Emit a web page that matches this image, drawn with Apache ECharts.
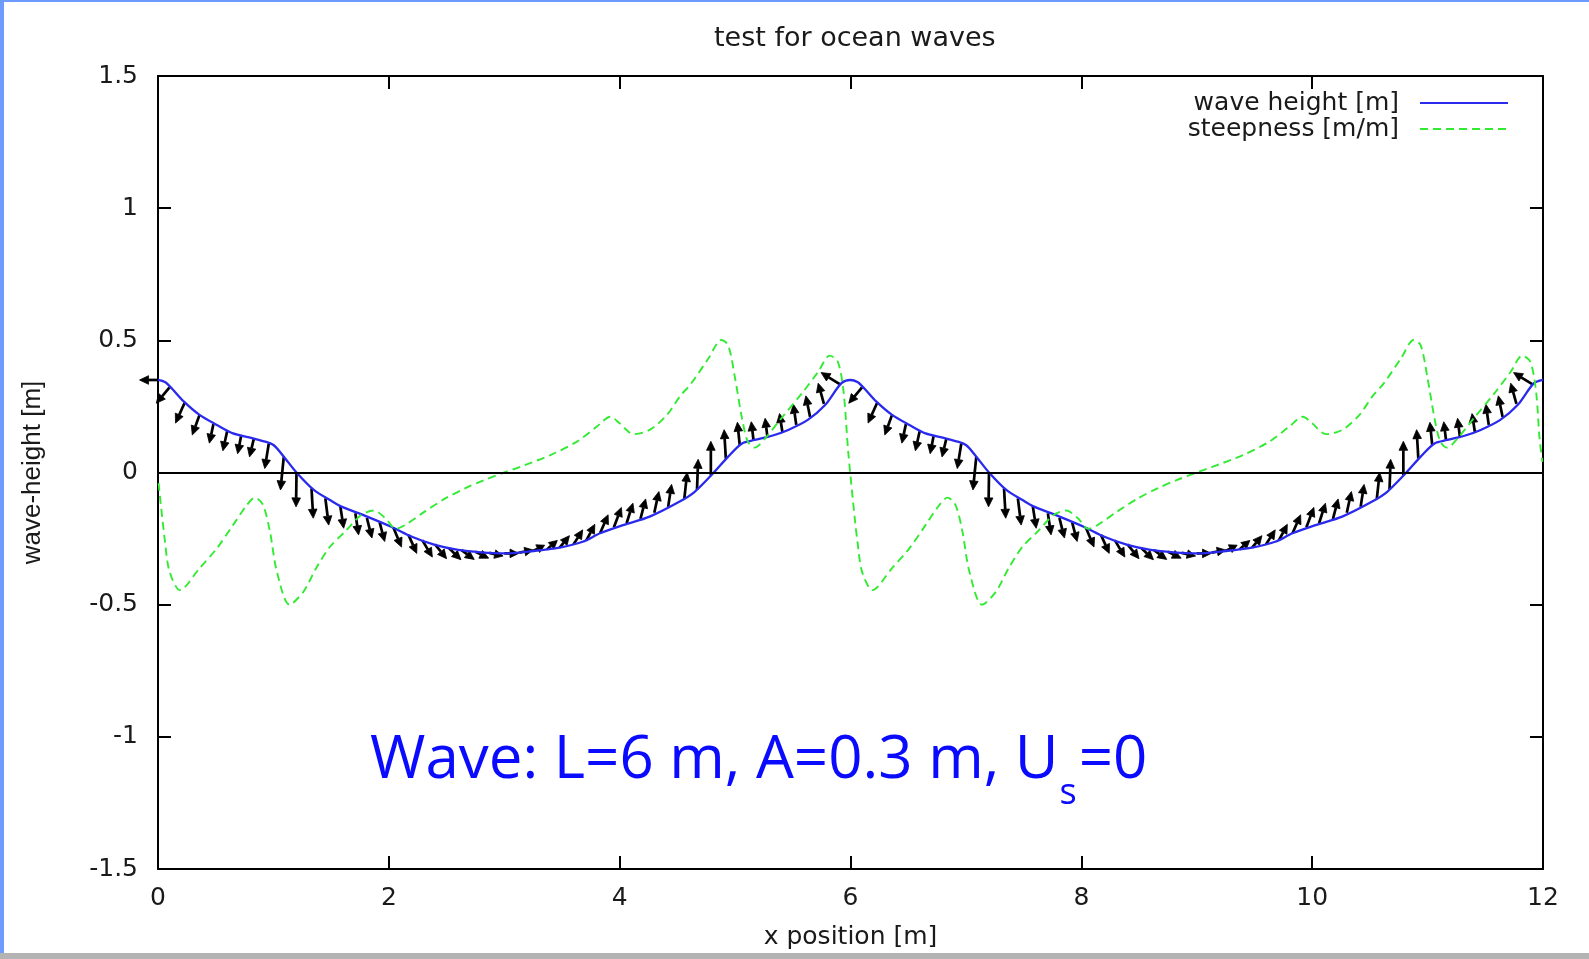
<!DOCTYPE html>
<html lang="en">
<head>
<meta charset="UTF-8">
<title>test for ocean waves</title>
<style>
    html, body { margin: 0; padding: 0; background: #fff; }
    .edge { position: absolute; z-index: 5; }
</style>
</head>
<body>
<div style="position:relative;width:1589px;height:959px;">
    <div id="main" style="width:1589px;height:959px;"></div>
    <div class="edge" style="left:0;top:0;width:1589px;height:2px;background:#6e9bfb"></div>
    <div class="edge" style="left:0;top:0;width:4px;height:959px;background:#6e9bfb"></div>
    <div class="edge" style="left:0;top:953px;width:1589px;height:6px;background:#b3b3b3"></div>
</div>

<script src="https://cdn.jsdelivr.net/npm/echarts@6/dist/echarts.min.js"></script>
<script>
    // wave height along x
    var waveX = [0, 0.06, 0.12, 0.22, 0.36, 0.51, 0.65, 0.80, 0.91, 1.00, 1.09, 1.20, 1.35, 1.49, 1.59, 1.79, 2.02, 2.20, 2.40, 2.60,
        2.80, 3.00, 3.25, 3.48, 3.68, 3.83, 4.03, 4.26, 4.52, 4.65, 4.81, 4.94, 5.06, 5.17, 5.32, 5.46, 5.63, 5.78, 5.92, 6.00,
        6.06, 6.12, 6.22, 6.36, 6.51, 6.65, 6.80, 6.91, 7.00, 7.09, 7.20, 7.35, 7.49, 7.59, 7.79, 8.02, 8.20, 8.40, 8.60, 8.80,
        9.00, 9.25, 9.48, 9.68, 9.83, 10.03, 10.26, 10.52, 10.65, 10.81, 10.94, 11.06, 11.17, 11.32, 11.46, 11.63, 11.78, 11.92, 12.00];
    var waveH = [0.350, 0.342, 0.318, 0.270, 0.218, 0.180, 0.148, 0.132, 0.119, 0.104, 0.060, 0.000, -0.066, -0.104, -0.129, -0.163, -0.205, -0.243, -0.274, -0.293,
        -0.302, -0.306, -0.297, -0.284, -0.262, -0.230, -0.199, -0.167, -0.110, -0.073, -0.003, 0.060, 0.110, 0.123, 0.139, 0.161, 0.199, 0.255, 0.337, 0.350,
        0.342, 0.318, 0.270, 0.218, 0.180, 0.148, 0.132, 0.119, 0.104, 0.060, 0.000, -0.066, -0.104, -0.129, -0.163, -0.205, -0.243, -0.274, -0.293, -0.302,
        -0.306, -0.297, -0.284, -0.262, -0.230, -0.199, -0.167, -0.110, -0.073, -0.003, 0.060, 0.110, 0.123, 0.139, 0.161, 0.199, 0.255, 0.337, 0.350];

    // steepness (green dashed)
    var steepX = [0.005, 0.06, 0.10, 0.19, 0.36, 0.51, 0.65, 0.77, 0.84, 0.91, 0.97, 1.03, 1.14, 1.26, 1.37, 1.49, 1.62, 1.76, 1.87, 1.97,
        2.06, 2.14, 2.31, 2.49, 2.66, 2.83, 3.00, 3.14, 3.40, 3.63, 3.80, 3.92, 4.00, 4.12, 4.26, 4.41, 4.52, 4.62, 4.77, 4.88,
        4.94, 5.00, 5.06, 5.11, 5.17, 5.26, 5.40, 5.58, 5.72, 5.82, 5.89, 5.94, 5.98,
        6.04, 6.06, 6.10, 6.19, 6.36, 6.51, 6.65, 6.77, 6.84, 6.91, 6.97, 7.03, 7.14, 7.26, 7.37, 7.49, 7.62, 7.76, 7.87, 7.97,
        8.06, 8.14, 8.31, 8.49, 8.66, 8.83, 9.00, 9.14, 9.40, 9.63, 9.80, 9.92, 10.00, 10.12, 10.26, 10.41, 10.52, 10.62, 10.77, 10.88,
        10.94, 11.00, 11.06, 11.11, 11.17, 11.26, 11.40, 11.58, 11.72, 11.82, 11.89, 11.94, 11.97, 11.995];
    var steepV = [-0.04, -0.26, -0.375, -0.445, -0.362, -0.287, -0.199, -0.123, -0.095, -0.123, -0.224, -0.375, -0.500, -0.451, -0.362, -0.281, -0.224, -0.161, -0.144, -0.173,
        -0.213, -0.199, -0.148, -0.098, -0.060, -0.028, 0.000, 0.022, 0.066, 0.117, 0.173, 0.211, 0.186, 0.145, 0.161, 0.218, 0.287, 0.337, 0.432, 0.501,
        0.482, 0.356, 0.205, 0.117, 0.094, 0.129, 0.205, 0.300, 0.381, 0.442, 0.419, 0.306, 0.079,
        -0.186, -0.26, -0.375, -0.445, -0.362, -0.287, -0.199, -0.123, -0.095, -0.123, -0.224, -0.375, -0.500, -0.451, -0.362, -0.281, -0.224, -0.161, -0.144, -0.173,
        -0.213, -0.199, -0.148, -0.098, -0.060, -0.028, 0.000, 0.022, 0.066, 0.117, 0.173, 0.211, 0.186, 0.145, 0.161, 0.218, 0.287, 0.337, 0.432, 0.501,
        0.482, 0.356, 0.205, 0.117, 0.094, 0.129, 0.205, 0.300, 0.381, 0.442, 0.419, 0.306, 0.13, 0.04];

    // velocity arrows: [x, y, dx, dy]
    var arrows = [
        [0.00, 0.350, -0.160, 0.000], [0.10, 0.322, -0.115, -0.060], [0.23, 0.263, -0.078, -0.076], [0.36, 0.218, -0.063, -0.076],
        [0.48, 0.183, -0.035, -0.072], [0.60, 0.158, -0.038, -0.076], [0.72, 0.138, -0.030, -0.067], [0.83, 0.127, -0.037, -0.068],
        [0.96, 0.110, -0.035, -0.095], [1.09, 0.060, -0.029, -0.126], [1.20, 0.000, -0.004, -0.130], [1.33, -0.060, 0.015, -0.113],
        [1.45, -0.098, 0.029, -0.101], [1.58, -0.129, 0.029, -0.082], [1.71, -0.154, 0.028, -0.082], [1.81, -0.172, 0.044, -0.076],
        [1.92, -0.188, 0.044, -0.073], [2.04, -0.209, 0.070, -0.073], [2.17, -0.236, 0.072, -0.070], [2.29, -0.256, 0.087, -0.064],
        [2.40, -0.272, 0.100, -0.054], [2.52, -0.286, 0.105, -0.044], [2.63, -0.294, 0.110, -0.035], [2.75, -0.300, 0.115, -0.024],
        [2.87, -0.304, 0.120, -0.012], [3.00, -0.306, 0.125, 0.000], [3.13, -0.303, 0.120, 0.010], [3.25, -0.297, 0.100, 0.022],
        [3.37, -0.291, 0.090, 0.034], [3.48, -0.284, 0.085, 0.045], [3.60, -0.272, 0.080, 0.055], [3.71, -0.258, 0.075, 0.062],
        [3.83, -0.230, 0.070, 0.070], [3.95, -0.207, 0.065, 0.075], [4.06, -0.192, 0.055, 0.076], [4.18, -0.176, 0.045, 0.076],
        [4.30, -0.152, 0.040, 0.080], [4.42, -0.130, 0.030, 0.085], [4.56, -0.100, 0.025, 0.100], [4.67, -0.065, 0.010, 0.115],
        [4.79, -0.010, 0.000, 0.128], [4.92, 0.052, -0.015, 0.110], [5.04, 0.105, -0.020, 0.085], [5.16, 0.122, -0.020, 0.070],
        [5.28, 0.135, -0.020, 0.070], [5.41, 0.153, -0.025, 0.070], [5.53, 0.180, -0.025, 0.078], [5.65, 0.210, -0.037, 0.080],
        [5.77, 0.260, -0.050, 0.078], [5.91, 0.333, -0.165, 0.045],
        [6.10, 0.322, -0.115, -0.060], [6.23, 0.263, -0.078, -0.076], [6.36, 0.218, -0.063, -0.076],
        [6.48, 0.183, -0.035, -0.072], [6.60, 0.158, -0.038, -0.076], [6.72, 0.138, -0.030, -0.067], [6.83, 0.127, -0.037, -0.068],
        [6.96, 0.110, -0.035, -0.095], [7.09, 0.060, -0.029, -0.126], [7.20, 0.000, -0.004, -0.130], [7.33, -0.060, 0.015, -0.113],
        [7.45, -0.098, 0.029, -0.101], [7.58, -0.129, 0.029, -0.082], [7.71, -0.154, 0.028, -0.082], [7.81, -0.172, 0.044, -0.076],
        [7.92, -0.188, 0.044, -0.073], [8.04, -0.209, 0.070, -0.073], [8.17, -0.236, 0.072, -0.070], [8.29, -0.256, 0.087, -0.064],
        [8.40, -0.272, 0.100, -0.054], [8.52, -0.286, 0.105, -0.044], [8.63, -0.294, 0.110, -0.035], [8.75, -0.300, 0.115, -0.024],
        [8.87, -0.304, 0.120, -0.012], [9.00, -0.306, 0.125, 0.000], [9.13, -0.303, 0.120, 0.010], [9.25, -0.297, 0.100, 0.022],
        [9.37, -0.291, 0.090, 0.034], [9.48, -0.284, 0.085, 0.045], [9.60, -0.272, 0.080, 0.055], [9.71, -0.258, 0.075, 0.062],
        [9.83, -0.230, 0.070, 0.070], [9.95, -0.207, 0.065, 0.075], [10.06, -0.192, 0.055, 0.076], [10.18, -0.176, 0.045, 0.076],
        [10.30, -0.152, 0.040, 0.080], [10.42, -0.130, 0.030, 0.085], [10.56, -0.100, 0.025, 0.100], [10.67, -0.065, 0.010, 0.115],
        [10.79, -0.010, 0.000, 0.128], [10.92, 0.052, -0.015, 0.110], [11.04, 0.105, -0.020, 0.085], [11.16, 0.122, -0.020, 0.070],
        [11.28, 0.135, -0.020, 0.070], [11.41, 0.153, -0.025, 0.070], [11.53, 0.180, -0.025, 0.078], [11.65, 0.210, -0.037, 0.080],
        [11.77, 0.260, -0.050, 0.078], [11.91, 0.333, -0.165, 0.045]
    ];

    var gnuFont = 'DejaVu Sans';
    var textColor = '#1a1a1a';
    var noteBlue = '#0a0aff';

    function zip(xs, ys) {
        return xs.map(function (x, i) { return [x, ys[i]]; });
    }

    function renderArrow(params, api) {
        var x = api.value(0), y = api.value(1);
        var p0 = api.coord([x, y]);
        var p1 = api.coord([x + api.value(2), y + api.value(3)]);
        var dx = p1[0] - p0[0], dy = p1[1] - p0[1];
        var len = Math.sqrt(dx * dx + dy * dy) || 1;
        var ux = dx / len, uy = dy / len;
        var headLen = Math.min(9, len * 0.6), headW = 4.3;
        var bx = p1[0] - ux * headLen, by = p1[1] - uy * headLen;
        return {
            type: 'group',
            children: [{
                type: 'line',
                shape: {x1: p0[0], y1: p0[1], x2: bx, y2: by},
                style: {stroke: '#000', lineWidth: 2.7}
            }, {
                type: 'polygon',
                shape: {points: [[p1[0], p1[1]], [bx - uy * headW, by + ux * headW], [bx + uy * headW, by - ux * headW]]},
                style: {fill: '#000', stroke: '#000', lineWidth: 0.8}
            }]
        };
    }

    var axisLine = {show: true, onZero: false, lineStyle: {color: '#000', width: 2}};
    var axisTick = {show: true, inside: true, length: 13, lineStyle: {color: '#000', width: 2}};

    var myChart = echarts.init(document.getElementById('main'));
    var option = {
        animation: false,
        backgroundColor: '#fff',
        title: {
            text: 'test for ocean waves',
            left: 709,
            top: 20,
            textStyle: {fontFamily: gnuFont, fontSize: 27, fontWeight: 'normal', color: textColor}
        },
        legend: {
            orient: 'vertical',
            right: 75,
            top: 85,
            align: 'right',
            itemWidth: 88,
            itemHeight: 14,
            itemGap: 0,
            itemStyle: {opacity: 0},
            data: ['wave height [m]', 'steepness [m/m]'],
            textStyle: {fontFamily: gnuFont, fontSize: 25, color: textColor, lineHeight: 26, padding: [0, 16, 0, 0]}
        },
        grid: {left: 158, right: 46, top: 76, bottom: 90},
        xAxis: [{
            type: 'value', min: 0, max: 12, interval: 2, position: 'bottom',
            axisLine: axisLine, axisTick: axisTick, splitLine: {show: false},
            axisLabel: {margin: 17, fontFamily: gnuFont, fontSize: 25, color: textColor},
            name: 'x position [m]', nameLocation: 'middle', nameGap: 56,
            nameTextStyle: {fontFamily: gnuFont, fontSize: 25, color: textColor}
        }, {
            type: 'value', min: 0, max: 12, interval: 2, position: 'top',
            axisLine: axisLine, axisTick: axisTick, splitLine: {show: false},
            axisLabel: {show: false}
        }],
        yAxis: [{
            type: 'value', min: -1.5, max: 1.5, interval: 0.5, position: 'left',
            axisLine: axisLine, axisTick: axisTick, splitLine: {show: false},
            axisLabel: {margin: 20, fontFamily: gnuFont, fontSize: 25, color: textColor},
            name: 'wave-height [m]', nameLocation: 'middle', nameGap: 112,
            nameTextStyle: {fontFamily: 'Liberation Sans', fontSize: 26, color: textColor}
        }, {
            type: 'value', min: -1.5, max: 1.5, interval: 0.5, position: 'right',
            axisLine: axisLine, axisTick: axisTick, splitLine: {show: false},
            axisLabel: {show: false}
        }],
        graphic: [{
            type: 'text',
            left: 370,
            top: 731,
            style: {
                text: '{a|Wave: L=6 m, A=0.3 m, U}{b|s}{a|=0}',
                fill: noteBlue,
                rich: {
                    a: {fontFamily: 'Open Sans', fontSize: 60, lineHeight: 61, fill: noteBlue, color: noteBlue, verticalAlign: 'top'},
                    b: {fontFamily: 'Open Sans', fontSize: 36, lineHeight: 36, fill: noteBlue, color: noteBlue, verticalAlign: 'top', padding: [45, 2, 0, 1]}
                }
            }
        }],
        series: [{
            name: 'velocity',
            type: 'custom',
            renderItem: renderArrow,
            data: arrows,
            encode: {x: 0, y: 1},
            clip: false,
            silent: true,
            z: 2
        }, {
            name: 'wave height [m]',
            type: 'line',
            data: zip(waveX, waveH),
            symbol: 'none',
            smooth: 0.3,
            lineStyle: {color: '#2a2aee', width: 2.3},
            itemStyle: {color: '#2a2aee'},
            z: 3,
            markLine: {
                silent: true,
                symbol: 'none',
                label: {show: false},
                lineStyle: {color: '#000', width: 2, type: 'solid'},
                data: [{yAxis: 0}]
            }
        }, {
            name: 'steepness [m/m]',
            type: 'line',
            data: zip(steepX, steepV),
            symbol: 'none',
            smooth: 0.3,
            lineStyle: {color: '#33ea33', width: 1.9, type: [8, 5]},
            itemStyle: {color: '#33ea33'},
            z: 4
        }]
    };
    myChart.setOption(option);
</script>
</body>
</html>
